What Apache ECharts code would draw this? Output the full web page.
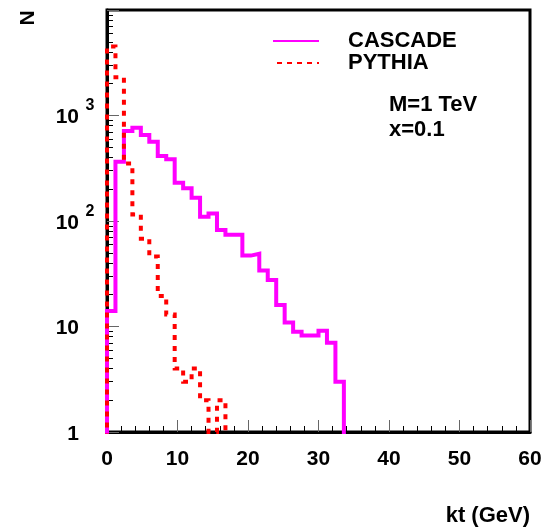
<!DOCTYPE html>
<html>
<head>
<meta charset="utf-8">
<script src="https://cdn.jsdelivr.net/npm/echarts@6/dist/echarts.min.js"></script>
<style>
  html, body { margin: 0; padding: 0; background: #fff; }
  #chart { width: 548px; height: 529px; }
</style>
</head>
<body>
<div id="chart"></div>
<script>
// ---- data ----
const BIN_WIDTH = 1.2;            // GeV per histogram bin
const cascadeCounts = [14, 365, 713, 765, 653, 565, 413, 385, 231, 204, 166, 110, 118, 82, 74, 74, 47, 49, 34, 27.6, 16, 10.9, 8.9, 8.2, 8.2, 9.1, 7.0, 3.0];
const pythiaCounts  = [4500, 2300, 350, 115, 68, 46, 19.5, 13, 4, 3, 4, 2, 1, 2];
const seriesNames = ['CASCADE', 'PYTHIA'];
const xTickValues = [0, 10, 20, 30, 40, 50, 60];
const yTickValues = [1, 10, 100, 1000];
const yTickBase   = ['1', '10', '10', '10'];
const yTickExp    = ['', '', '2', '3'];
const annotations = ['M=1 TeV', 'x=0.1'];
const xTitle = 'kt (GeV)';
const yTitle = 'N';

const FLOOR = 0.1; // empty bins: drawn below the log axis minimum (clipped)

function stepPoints(counts) {
  const pts = [[0, FLOOR]];
  counts.forEach((v, k) => {
    const y = v > 0 ? v : FLOOR;
    pts.push([k * BIN_WIDTH, y], [(k + 1) * BIN_WIDTH, y]);
  });
  pts.push([counts.length * BIN_WIDTH, FLOOR]);
  return pts;
}

// minor tick positions (2..9 in each decade), expressed in decades for an overlay tick axis
const minorYDecades = [];
for (let e = 0; e < 4; e++) {
  for (let m = 2; m <= 9; m++) minorYDecades.push(e + Math.log10(m));
}

const FONT = 'Liberation Sans';
const chart = echarts.init(document.getElementById('chart'), null, { renderer: 'canvas' });

chart.setOption({
  animation: false,
  backgroundColor: '#fff',
  grid: {
    left: 107, right: 18, top: 10, bottom: 97,
    show: true, borderColor: '#000', borderWidth: 3, backgroundColor: 'transparent'
  },
  legend: {
    orient: 'vertical',
    left: 272, top: 30, padding: 0,
    itemWidth: 46, itemHeight: 14, itemGap: 0,
    itemStyle: { opacity: 0 },
    textStyle: {
      fontFamily: FONT, fontWeight: 'bold', fontSize: 22, color: '#000',
      lineHeight: 22, padding: [0, 0, 0, 24]
    },
    data: [
      { name: seriesNames[0], lineStyle: { width: 2, color: '#ff00ff', type: 'solid' } },
      { name: seriesNames[1], lineStyle: { width: 2, color: '#ff0000', type: [5, 5], dashOffset: -4 } }
    ]
  },
  xAxis: {
    type: 'value',
    min: 0, max: 60, interval: 10,
    axisLine: { show: true, onZero: false, lineStyle: { color: '#000', width: 3 } },
    axisTick: { show: true, inside: true, length: 12, lineStyle: { color: '#666', width: 1 } },
    minorTick: { show: true, splitNumber: 5, length: 6, lineStyle: { color: '#000', width: 1 } },
    splitLine: { show: false },
    axisLabel: {
      margin: 17,
      color: '#000', fontFamily: FONT, fontWeight: 'bold', fontSize: 21,
      formatter: v => (xTickValues.indexOf(v) >= 0 ? String(v) : '')
    }
  },
  yAxis: [
    {
      type: 'log', logBase: 10, min: 1, max: 10000,
      axisLine: { show: true, lineStyle: { color: '#000', width: 3 } },
      axisTick: { show: true, inside: true, length: 12, lineStyle: { color: '#666', width: 1 } },
      splitLine: { show: false },
      axisLabel: {
        margin: 11,
        align: 'right',
        formatter: v => {
          let i = yTickValues.findIndex(t => Math.abs(t - v) / t < 1e-6);
          if (i < 0) return '';
          return '{b|' + yTickBase[i] + '}{s|' + (yTickExp[i] || ' ') + '}';
        },
        rich: {
          b: { fontFamily: FONT, fontWeight: 'bold', fontSize: 21, color: '#000', lineHeight: 21, padding: [4, 0, 0, 0], verticalAlign: 'middle' },
          s: { fontFamily: FONT, fontWeight: 'bold', fontSize: 16, color: '#000', lineHeight: 16, width: 12, align: 'left', padding: [0, 0, 19, 5], verticalAlign: 'middle' }
        }
      }
    },
    {
      type: 'value', min: 0, max: 4, position: 'left',
      axisLine: { show: false },
      axisTick: { show: true, inside: true, length: 6, customValues: minorYDecades, lineStyle: { color: '#000', width: 1 } },
      axisLabel: { show: false },
      splitLine: { show: false }
    }
  ],
  series: [
    {
      name: seriesNames[0], type: 'line', yAxisIndex: 0,
      data: stepPoints(cascadeCounts),
      symbol: 'none', clip: true,
      lineStyle: { color: '#ff00ff', width: 4, join: 'miter', cap: 'butt' },
      itemStyle: { color: '#ff00ff' }
    },
    {
      name: seriesNames[1], type: 'line', yAxisIndex: 0,
      data: stepPoints(pythiaCounts),
      symbol: 'none', clip: true,
      lineStyle: { color: '#ff0000', width: 4, type: [5, 6], join: 'miter', cap: 'butt' },
      itemStyle: { color: '#ff0000' }
    }
  ],
  graphic: [
    { type: 'text', x: 389, y: 105, style: { text: annotations[0], font: 'bold 22px "' + FONT + '"', fill: '#000', textVerticalAlign: 'middle' } },
    { type: 'text', x: 389, y: 130, style: { text: annotations[1], font: 'bold 22px "' + FONT + '"', fill: '#000', textVerticalAlign: 'middle' } },
    { type: 'text', x: 530, y: 516, style: { text: xTitle, font: 'bold 22px "' + FONT + '"', fill: '#000', textAlign: 'right', textVerticalAlign: 'middle' } },
    { type: 'text', x: 28, y: 18, rotation: Math.PI / 2, style: { text: yTitle, font: 'bold 21px "' + FONT + '"', fill: '#000', textAlign: 'center', textVerticalAlign: 'middle' } }
  ]
});
</script>
</body>
</html>
